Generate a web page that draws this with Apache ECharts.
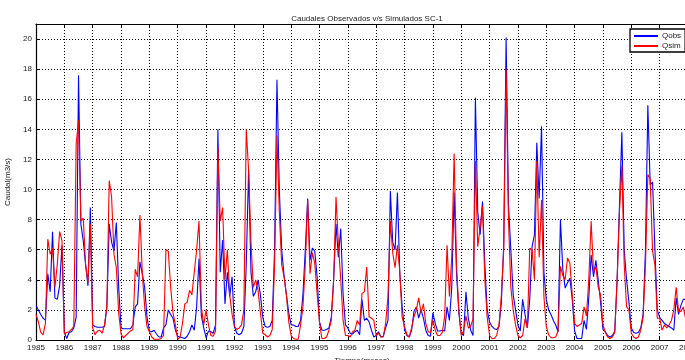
<!DOCTYPE html>
<html>
<head>
<meta charset="utf-8">
<script src="https://cdn.jsdelivr.net/npm/echarts@6/dist/echarts.min.js"></script>
<style>html,body{margin:0;padding:0;background:#fff;}#c{width:685px;height:360px;}</style>
</head>
<body>
<div id="c"></div>
<script>
const startYear = 1985;
const yearTicks = [1985, 2008];
const qobs = [
  2.3, 2.0, 1.7, 1.45, 1.3, 4.4, 3.2, 7.2, 2.8, 2.7, 3.6, 6.3,
  0.5, 0.1, 0.5, 0.55, 0.8, 1.5, 17.6, 7.7, 6.6, 5.0, 3.6, 8.8,
  1.0, 0.9, 0.85, 0.85, 0.85, 0.9, 2.2, 7.7, 6.5, 5.9, 7.8, 3.5,
  0.8, 0.75, 0.75, 0.75, 0.75, 1.0, 2.2, 2.4, 5.2, 4.4, 3.5, 1.5,
  0.6, 0.55, 0.65, 0.4, 0.2, 0.2, 0.8, 1.0, 2.0, 1.7, 1.45, 0.65,
  0.25, 0.2, 0.15, 0.1, 0.25, 0.55, 1.0, 0.65, 2.2, 5.4, 1.6, 0.8,
  0.15, 0.6, 0.55, 0.45, 1.0, 14.0, 4.5, 6.65, 2.4, 4.5, 2.9, 4.2,
  0.9, 0.45, 0.35, 0.45, 0.9, 5.0, 11.3, 4.5, 2.9, 3.2, 4.0, 3.0,
  1.5, 0.9, 0.85, 0.9, 1.3, 6.0, 17.3, 10.0, 6.0, 4.3, 3.0, 1.8,
  1.0, 1.0, 0.9, 0.9, 1.3, 3.0, 6.0, 9.4, 5.3, 6.1, 5.9, 4.2,
  1.2, 0.65, 0.65, 0.7, 0.8, 1.5, 4.0, 7.7, 5.5, 7.4, 3.0, 1.0,
  0.8, 0.45, 0.4, 0.55, 0.65, 0.35, 2.7, 1.3, 1.45, 1.2, 0.65, 0.2,
  0.3, 0.55, 0.2, 0.25, 0.8, 1.3, 9.9, 6.5, 6.0, 9.8, 4.4, 2.2,
  0.7, 0.3, 0.2, 0.65, 1.9, 2.2, 1.45, 2.0, 1.45, 0.65, 0.3, 0.25,
  1.8, 1.1, 0.6, 0.6, 0.65, 0.6, 2.2, 1.3, 3.5, 9.8, 4.5, 1.8,
  0.45, 0.3, 3.2, 1.45, 0.65, 0.3, 16.1, 8.5, 7.0, 9.2, 5.0, 2.0,
  1.2, 0.9, 0.75, 0.7, 0.9, 2.5, 6.4, 20.1, 9.0, 6.0, 3.0, 2.0,
  1.0, 0.6, 2.7, 1.7, 0.8, 2.7, 6.2, 7.0, 13.1, 9.4, 14.2, 4.5,
  2.7, 2.0, 1.7, 1.3, 1.0, 0.55, 8.0, 4.7, 3.45, 3.8, 4.1, 2.7,
  0.6, 0.1, 0.1, 0.1, 1.3, 0.7, 2.8, 5.65, 4.2, 5.3, 4.0, 2.5,
  0.7, 0.55, 0.3, 0.2, 0.3, 0.6, 4.0, 9.0, 13.8, 6.0, 4.0, 2.5,
  0.8, 0.5, 0.45, 0.5, 0.8, 1.7, 6.0, 15.6, 10.3, 10.5, 6.0, 2.0,
  1.5, 1.3, 1.1, 1.0, 0.9, 0.8, 0.65, 2.8, 1.7, 2.3, 2.7, 2.7
];
const qsim = [
  1.7, 1.2, 0.5, 0.35, 1.1, 6.7, 5.7, 6.1, 3.5, 5.0, 7.2, 6.6,
  0.4, 0.5, 0.55, 0.7, 0.9, 13.0, 14.6, 7.9, 8.1, 5.0, 3.8, 7.7,
  0.8, 0.35, 0.6, 0.65, 0.45, 1.0, 2.2, 10.6, 9.5, 5.7, 4.8, 1.8,
  0.4, 0.15, 0.3, 0.45, 0.6, 0.7, 4.7, 4.2, 8.3, 4.4, 2.2, 0.9,
  0.55, 0.2, 0.05, 0.05, 0.05, 0.1, 0.3, 6.0, 5.9, 3.5, 1.8, 1.0,
  0.05, 0.2, 1.1, 2.4, 2.5, 3.3, 3.0, 4.5, 6.0, 7.9, 2.2, 1.0,
  2.0, 1.0, 0.3, 0.25, 0.6, 12.8, 7.9, 8.8, 4.0, 6.0, 3.0, 1.7,
  0.9, 0.7, 0.8, 1.0, 2.0, 14.0, 11.3, 6.5, 3.5, 4.0, 3.3, 1.8,
  0.45, 0.35, 0.2, 0.3, 0.7, 5.0, 13.6, 8.5, 5.0, 4.2, 3.0, 1.2,
  0.3, 0.1, 0.05, 0.05, 1.0, 2.2, 5.0, 9.3, 4.4, 5.8, 5.1, 3.1,
  1.2, 0.1, 0.1, 0.2, 0.65, 1.3, 4.0, 9.5, 6.4, 4.0, 1.3, 0.3,
  0.3, 0.2, 0.55, 0.65, 1.3, 1.0, 3.1, 3.2, 4.85, 1.55, 1.45, 1.3,
  0.3, 0.45, 0.2, 0.2, 1.1, 2.9, 7.9, 5.8, 4.8, 6.3, 4.5, 1.5,
  0.9, 0.35, 0.2, 0.8, 1.55, 2.0, 2.8, 1.8, 2.4, 1.1, 0.55, 0.5,
  1.3, 0.65, 0.3, 0.3, 0.5, 1.55, 6.3, 2.9, 5.5, 12.4, 5.0, 2.0,
  0.3, 0.6, 1.6, 0.8, 0.9, 1.4, 11.9, 6.2, 7.5, 8.9, 4.0, 1.5,
  0.3, 0.1, 0.1, 0.3, 1.0, 3.0, 6.0, 18.0, 8.0, 3.5, 2.0, 1.0,
  0.3, 0.15, 0.3, 1.4, 0.8, 6.1, 6.0, 4.0, 11.9, 5.5, 9.3, 2.9,
  0.9, 0.35, 0.15, 0.15, 0.2, 0.6, 4.9, 4.3, 4.0, 5.45, 5.1, 3.0,
  1.1, 0.9, 1.0, 1.1, 2.2, 1.6, 4.0, 7.9, 4.5, 4.9, 3.5, 3.0,
  1.0, 0.5, 0.2, 0.1, 0.2, 0.5, 4.0, 8.5, 11.6, 5.0, 2.2, 2.0,
  0.45, 0.2, 0.1, 0.2, 0.65, 1.5, 5.0, 11.0, 10.7, 5.9, 5.0, 1.45,
  1.45, 0.65, 1.0, 0.8, 1.0, 1.3, 2.0, 3.5, 1.9, 1.9, 2.2, 1.4
];
const seriesNames = ['Qobs', 'Qsim'];
const yRange = [0, 21];

const toPairs = arr => arr.map((v, i) => [startYear + i / 12, v]);
const FONT = 'Liberation Sans';
const grid = {color: '#000', width: 1, type: [1, 2]};

const chart = echarts.init(document.getElementById('c'), null, {renderer: 'canvas'});
chart.setOption({
  animation: false,
  backgroundColor: '#fff',
  textStyle: {fontFamily: FONT},
  title: {
    text: 'Caudales Observados v/s Simulados SC-1',
    left: 362, top: 10, textAlign: 'center',
    textStyle: {fontSize: 8, fontWeight: 'normal', color: '#222', fontFamily: FONT}
  },
  legend: {
    data: seriesNames,
    orient: 'vertical',
    left: 630, top: 29,
    padding: [3, 4, 2, 4],
    itemGap: 2,
    itemWidth: 24, itemHeight: 2,
    icon: 'rect',
    borderColor: '#000', borderWidth: 1.3,
    backgroundColor: '#fff',
    textStyle: {fontSize: 8, color: '#222', fontFamily: FONT, padding: [0, 0, 0, -1]}
  },
  grid: {left: 36, right: -3, top: 24, bottom: 20, show: false, containLabel: false, outerBoundsMode: 'none'},
  xAxis: [{
    type: 'value', min: yearTicks[0], max: yearTicks[1], interval: 1,
    name: 'Tiempo(meses)', nameLocation: 'middle', nameGap: 12,
    nameTextStyle: {fontSize: 8, color: '#222'},
    axisLine: {show: true, lineStyle: {color: '#000', width: 1.2}},
    axisTick: {show: true, inside: true, length: 4, lineStyle: {color: '#000'}},
    axisLabel: {fontSize: 8, color: '#222', margin: 4, formatter: v => String(Math.round(v))},
    splitLine: {show: true, lineStyle: grid}
  }, {
    type: 'value', min: yearTicks[0], max: yearTicks[1], interval: 1, position: 'top',
    axisLine: {show: true, onZero: false, lineStyle: {color: '#000', width: 1.2}},
    axisTick: {show: true, inside: true, length: 4, lineStyle: {color: '#000'}},
    axisLabel: {show: false}, splitLine: {show: false}
  }],
  yAxis: [{
    type: 'value', min: yRange[0], max: yRange[1], interval: 2,
    name: 'Caudal(m3/s)', nameLocation: 'middle', nameGap: 20,
    nameTextStyle: {fontSize: 8, color: '#222'},
    axisLine: {show: true, lineStyle: {color: '#000', width: 1.2}},
    axisTick: {show: true, inside: true, length: 4, lineStyle: {color: '#000'}},
    axisLabel: {fontSize: 8, color: '#222', margin: 4, showMaxLabel: false,
      formatter: v => (v % 2 === 0 ? String(v) : '')},
    splitLine: {show: true, lineStyle: grid}
  }, {
    type: 'value', min: yRange[0], max: yRange[1], interval: 2, position: 'right',
    axisLine: {show: true, onZero: false, lineStyle: {color: '#000', width: 1.2}},
    axisTick: {show: true, inside: true, length: 4, lineStyle: {color: '#000'}},
    axisLabel: {show: false}, splitLine: {show: false}
  }],
  series: [{
    name: seriesNames[0], type: 'line', data: toPairs(qobs),
    showSymbol: false, symbol: 'none', color: '#0000ff',
    lineStyle: {width: 1.1, color: '#0000ff'}
  }, {
    name: seriesNames[1], type: 'line', data: toPairs(qsim),
    showSymbol: false, symbol: 'none', color: '#ff0000',
    lineStyle: {width: 1.1, color: '#ff0000'}
  }]
});
</script>
</body>
</html>
